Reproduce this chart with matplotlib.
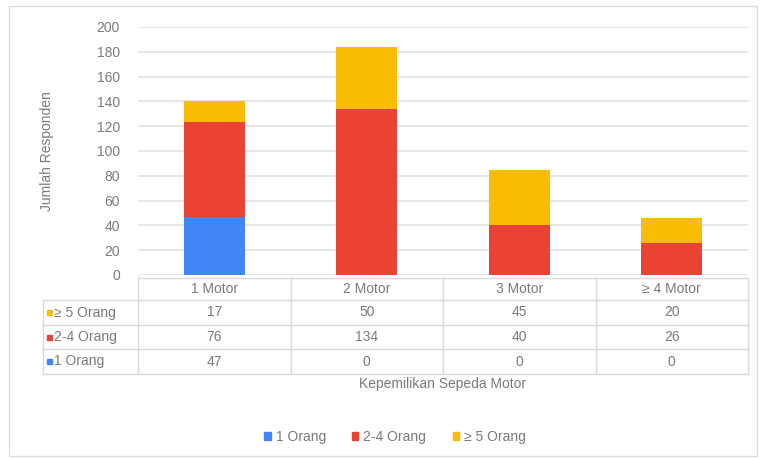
import matplotlib
matplotlib.use("Agg")
import matplotlib.pyplot as plt
from matplotlib import font_manager
from matplotlib.patches import Rectangle
from matplotlib.lines import Line2D

# data
categories = ["1 Motor", "2 Motor", "3 Motor", "\u2265 4 Motor"]
series_names = ["1 Orang", "2-4 Orang", "\u2265 5 Orang"]
orang_1 = [47, 0, 0, 0]
orang_2_4 = [76, 134, 40, 26]
orang_5_plus = [17, 50, 45, 20]
y_ticks = [0, 20, 40, 60, 80, 100, 120, 140, 160, 180, 200]

series_values = [orang_1, orang_2_4, orang_5_plus]
colors = ["#4285F4", "#EA4335", "#FBBC04"]
text_color = "#7a7a7a"
grid_color = "#e2e2e2"
fs = 10

names = {f.name for f in font_manager.fontManager.ttflist}
family = "Liberation Sans Narrow" if "Liberation Sans Narrow" in names else "Liberation Sans"
plt.rcParams["font.family"] = [family, "DejaVu Sans"]

W, H = 760, 459
fig = plt.figure(figsize=(W / 100, H / 100), dpi=100)
fig.patch.set_facecolor("white")


def fx(px):
    return px / W


def fy(py):
    return 1 - py / H


# outer frame
fig.add_artist(Rectangle((fx(9), fy(456)), fx(757) - fx(9), fy(6) - fy(456),
                         transform=fig.transFigure, fill=False,
                         edgecolor="#dcdcdc", linewidth=1))

ax_left, ax_right, ax_top, ax_bottom = 138, 748, 27, 275
ax = fig.add_axes([fx(ax_left), fy(ax_bottom), fx(ax_right) - fx(ax_left),
                   fy(ax_top) - fy(ax_bottom)])

x = list(range(len(categories)))
bottom = [0] * len(categories)
for vals, col, name in zip(series_values, colors, series_names):
    ax.bar(x, vals, bottom=bottom, width=0.4, color=col, label=name, zorder=3)
    bottom = [b + v for b, v in zip(bottom, vals)]

ax.set_xlim(-0.5, len(categories) - 0.5)
ax.set_ylim(0, 200)
ax.set_yticks(y_ticks)
ax.set_yticklabels([str(t) for t in y_ticks], color=text_color, fontsize=fs)
ax.set_xticks([])
ax.tick_params(axis="y", length=0, pad=13)
ax.grid(axis="y", color=grid_color, linewidth=1.2, zorder=0)
for s in ax.spines.values():
    s.set_visible(False)

fig.text(fx(47), fy(151), "Jumlah Responden", rotation=90, ha="center",
         va="center", color=text_color, fontsize=fs)

# data table below the plot
tbl_left = 43
col_w = (ax_right - ax_left) / len(categories)
row_edges = [278, 300, 325, 349, 374]
line_kw = dict(transform=fig.transFigure, color="#d9d9d9", linewidth=1)

# horizontal lines
fig.add_artist(Line2D([fx(ax_left), fx(ax_right)], [fy(row_edges[0])] * 2, **line_kw))
for ry in row_edges[1:]:
    fig.add_artist(Line2D([fx(tbl_left), fx(ax_right)], [fy(ry)] * 2, **line_kw))
# vertical lines
fig.add_artist(Line2D([fx(tbl_left)] * 2, [fy(row_edges[1]), fy(row_edges[-1])], **line_kw))
for i in range(len(categories) + 1):
    cx = ax_left + i * col_w
    fig.add_artist(Line2D([fx(cx)] * 2, [fy(row_edges[0]), fy(row_edges[-1])], **line_kw))

# header row
for i, cat in enumerate(categories):
    cx = ax_left + (i + 0.5) * col_w
    fig.text(fx(cx), fy((row_edges[0] + row_edges[1]) / 2), cat, ha="center",
             va="center", color=text_color, fontsize=fs)

# body rows, top to bottom: largest household first
row_order = [2, 1, 0]
for r, si in enumerate(row_order):
    cy = (row_edges[r + 1] + row_edges[r + 2]) / 2
    fig.add_artist(Rectangle((fx(47), fy(cy + 2.5)), fx(5), fy(0) - fy(5),
                             transform=fig.transFigure, color=colors[si]))
    fig.text(fx(54), fy(cy), series_names[si], ha="left", va="center",
             color=text_color, fontsize=fs)
    for i, v in enumerate(series_values[si]):
        cx = ax_left + (i + 0.5) * col_w
        fig.text(fx(cx), fy(cy), str(v), ha="center", va="center",
                 color=text_color, fontsize=fs)

fig.text(fx(443), fy(384), "Kepemilikan Sepeda Motor", ha="center",
         va="center", color=text_color, fontsize=fs)

# legend
handles = [Rectangle((0, 0), 1, 1, color=c) for c in colors]
fig.legend(handles, series_names, loc="center", bbox_to_anchor=(fx(395), fy(437)),
           ncol=3, frameon=False, handlelength=0.45, handleheight=0.45,
           handletextpad=0.35, columnspacing=1.9,
           prop={"size": fs}, labelcolor=text_color)

fig.savefig("out.png", dpi=100, facecolor="white")
